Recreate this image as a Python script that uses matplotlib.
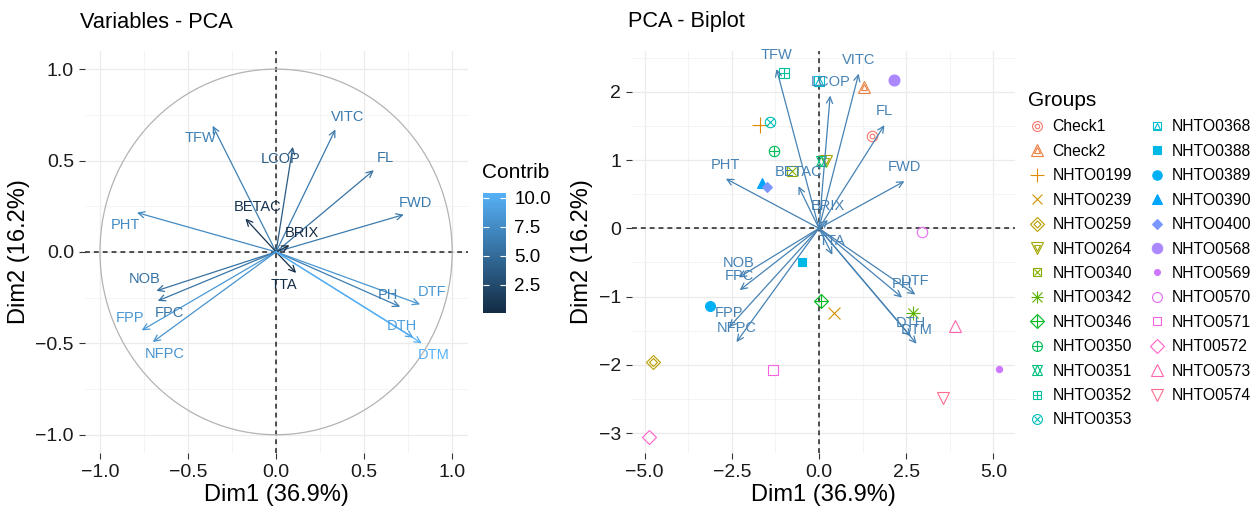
import numpy as np
import matplotlib
matplotlib.use("Agg")
import matplotlib.pyplot as plt
from matplotlib.colors import LinearSegmentedColormap, Normalize
from matplotlib.cm import ScalarMappable
from matplotlib.lines import Line2D
from matplotlib.patches import Circle
from matplotlib.legend_handler import HandlerTuple

plt.rcParams['font.family'] = ['Liberation Sans', 'DejaVu Sans']

# variable coordinates (Dim1, Dim2)
var_names = ["TFW", "LCOP", "VITC", "FL", "FWD", "BETAC", "BRIX", "PHT", "TTA",
             "NOB", "FPC", "FPP", "NFPC", "PH", "DTF", "DTH", "DTM"]
var_x = [-0.36, 0.095, 0.337, 0.555, 0.725, -0.174, 0.076, -0.79, 0.114,
         -0.68, -0.672, -0.763, -0.70, 0.705, 0.818, 0.78, 0.828]
var_y = [0.69, 0.575, 0.67, 0.447, 0.204, 0.182, 0.036, 0.215, -0.115,
         -0.213, -0.268, -0.429, -0.493, -0.30, -0.287, -0.469, -0.50]
contrib = [6.7, 3.8, 6.2, 5.6, 6.3, 0.7, 0.1, 7.4, 0.3,
           5.6, 5.8, 8.5, 8.1, 6.5, 8.3, 9.2, 10.4]
biplot_scale = 3.38

# individuals
groups = ["Check1", "Check2", "NHTO0199", "NHTO0239", "NHTO0259", "NHTO0264",
          "NHTO0340", "NHTO0342", "NHTO0346", "NHTO0350", "NHTO0351", "NHTO0352",
          "NHTO0353", "NHTO0368", "NHTO0388", "NHTO0389", "NHTO0390", "NHTO0400",
          "NHTO0568", "NHTO0569", "NHTO0570", "NHTO0571", "NHT00572", "NHTO0573",
          "NHTO0574"]
ind_x = [1.52, 1.28, -1.69, 0.42, -4.76, 0.19, -0.78, 2.70, 0.06, -1.30, 0.06, -1.01,
         -1.39, 0.0, -0.50, -3.12, -1.64, -1.50, 2.15, 5.16, 2.94, -1.32, -4.86, 3.89, 3.55]
ind_y = [1.356, 2.07, 1.51, -1.234, -1.96, 0.99, 0.84, -1.244, -1.07, 1.137, 0.99, 2.27,
         1.556, 2.16, -0.49, -1.137, 0.668, 0.61, 2.17, -2.06, -0.05, -2.07, -3.05, -1.43, -2.49]

# label nudges for the variable plot (direction signs)
lab_dir = [(-1, -1), (-1, -1), (1, 1), (1, 1), (1, 1), (1, 1), (1, 1), (-1, -1), (-1, -1),
           (-1, 1), (1, -1), (-1, 1), (1, -1), (-1, 1), (1, 1), (-1, 1), (1, -1)]


def hue_pal(n, l=65, c=100):
    out = []
    Xn, Yn, Zn = 0.95047, 1.0, 1.08883
    un = 4 * Xn / (Xn + 15 * Yn + 3 * Zn)
    vn = 9 * Yn / (Xn + 15 * Yn + 3 * Zn)
    M = np.array([[3.2404542, -1.5371385, -0.4985314],
                  [-0.9692660, 1.8760108, 0.0415560],
                  [0.0556434, -0.2040259, 1.0572252]])
    for h in np.linspace(15, 375, n + 1)[:-1]:
        u = c * np.cos(np.radians(h))
        v = c * np.sin(np.radians(h))
        Y = ((l + 16) / 116) ** 3
        up = u / (13 * l) + un
        vp = v / (13 * l) + vn
        X = Y * 9 * up / (4 * vp)
        Z = Y * (12 - 3 * up - 20 * vp) / (4 * vp)
        rgb = M @ np.array([X, Y, Z])
        rgb = np.where(rgb <= 0.0031308, 12.92 * rgb, 1.055 * np.abs(rgb) ** (1 / 2.4) - 0.055)
        rgb = np.clip(rgb, 0, 1)
        out.append('#%02x%02x%02x' % tuple(int(round(v * 255)) for v in rgb))
    return out


# pch 1..25 approximations: (marker, filled, size factor)
shapes = [
    [('o', 0, 1.0), ('o', 0, 0.45)],
    [('^', 0, 1.15), ('^', 0, 0.6)],
    [('+', 0, 1.5)],
    [('x', 0, 1.1)],
    [('D', 0, 0.95), ('D', 0, 0.5)],
    [('v', 0, 1.15), ('v', 0, 0.6)],
    [('s', 0, 0.9), ('x', 0, 0.7)],
    [('+', 0, 1.3), ('x', 0, 0.95)],
    [('D', 0, 1.0), ('+', 0, 1.3)],
    [('o', 0, 1.0), ('+', 0, 1.0)],
    [('^', 0, 1.0), ('v', 0, 1.0)],
    [('s', 0, 0.9), ('+', 0, 0.9)],
    [('o', 0, 1.0), ('x', 0, 0.7)],
    [('s', 0, 0.9), ('^', 0, 0.7)],
    [('s', 1, 0.85)],
    [('o', 1, 0.95)],
    [('^', 1, 1.05)],
    [('D', 1, 0.65)],
    [('o', 1, 1.05)],
    [('o', 1, 0.6)],
    [('o', 0, 1.0)],
    [('s', 0, 0.9)],
    [('D', 0, 0.95)],
    [('^', 0, 1.15)],
    [('v', 0, 1.15)],
]
colors = hue_pal(len(groups))

W, H = 1252, 509
fig = plt.figure(figsize=(W / 100, H / 100), dpi=100)


def frac(l, t, r, b):
    return [l / W, 1 - b / H, (r - l) / W, (b - t) / H]


def style_axes(ax):
    for s in ax.spines.values():
        s.set_visible(False)
    ax.grid(True, which='major', color='#ebebeb', lw=0.9)
    ax.grid(True, which='minor', color='#f3f3f3', lw=0.6)
    ax.set_axisbelow(True)
    ax.tick_params(which='major', length=4, color='#333333', labelsize=14,
                   labelcolor='#1a1a1a', pad=4)
    ax.tick_params(which='minor', length=0)
    ax.axhline(0, color='#222222', ls=(0, (3.2, 2.6)), lw=1.1, zorder=1)
    ax.axvline(0, color='#222222', ls=(0, (3.2, 2.6)), lw=1.1, zorder=1)


def minus_fmt(fmt):
    return lambda v, p: fmt.format(v).replace("-", "\u2212")


# ---------------- Variables - PCA ----------------
ax1 = fig.add_axes(frac(85, 51, 468, 453))
style_axes(ax1)
ax1.set_xticks([-1.0, -0.5, 0.0, 0.5, 1.0])
ax1.set_yticks([-1.0, -0.5, 0.0, 0.5, 1.0])
ax1.set_xticks(np.arange(-1.0, 1.01, 0.25), minor=True)
ax1.set_yticks(np.arange(-1.0, 1.01, 0.25), minor=True)
ax1.set_xlim(-1.085, 1.09)
ax1.set_ylim(-1.10, 1.099)
ax1.xaxis.set_major_formatter(minus_fmt("{:.1f}"))
ax1.yaxis.set_major_formatter(minus_fmt("{:.1f}"))
ax1.add_patch(Circle((0, 0), 1.0, fill=False, ec='#b3b3b3', lw=0.9, zorder=2))

cmap = LinearSegmentedColormap.from_list('gg', ['#132B43', '#56B1F7'])
norm = Normalize(vmin=0.06, vmax=10.43)
for name, x, y, c, (sx, sy) in zip(var_names, var_x, var_y, contrib, lab_dir):
    col = cmap(norm(c))
    ax1.annotate('', xy=(x, y), xytext=(0, 0),
                 arrowprops=dict(arrowstyle='->,head_length=0.45,head_width=0.22',
                                 color=col, lw=0.9, shrinkA=0, shrinkB=0), zorder=3)
    ax1.annotate(name, xy=(x, y), xytext=(12 * sx, 12 * sy), textcoords='offset pixels',
                 ha='center', va='center', fontsize=10.5, color=col, zorder=4)
ax1.set_xlabel('Dim1 (36.9%)', fontsize=17, labelpad=2)
ax1.set_ylabel('Dim2 (16.2%)', fontsize=17, labelpad=4)
fig.text(80 / W, 1 - 22 / H, 'Variables - PCA', fontsize=15.7, ha='left', va='center')

# colorbar
cax = fig.add_axes(frac(483, 193, 506, 313))
cb = fig.colorbar(ScalarMappable(norm=norm, cmap=cmap), cax=cax)
cb.outline.set_visible(False)
cb.set_ticks([2.5, 5.0, 7.5, 10.0])
cb.ax.set_yticklabels(['2.5', '5.0', '7.5', '10.0'])
cax.tick_params(color='white', direction='in', length=4, width=0.8, left=True, right=True,
                labelleft=False, labelright=True, labelsize=13.5, pad=6)
fig.text(482 / W, 1 - 172 / H, 'Contrib', fontsize=15, ha='left', va='center')

# ---------------- PCA - Biplot ----------------
ax2 = fig.add_axes(frac(632, 51, 1015, 453))
style_axes(ax2)
ax2.set_xticks([-5.0, -2.5, 0.0, 2.5, 5.0])
ax2.set_yticks([-3, -2, -1, 0, 1, 2])
ax2.set_xticks(np.arange(-6.25, 6.3, 1.25), minor=True)
ax2.set_yticks(np.arange(-3.5, 3.0, 0.5), minor=True)
ax2.set_xlim(-5.36, 5.62)
ax2.set_ylim(-3.29, 2.596)
ax2.xaxis.set_major_formatter(minus_fmt("{:.1f}"))
ax2.yaxis.set_major_formatter(minus_fmt("{:.0f}"))

base_ms = 7.5
handles = []
for i, (g, x, y) in enumerate(zip(groups, ind_x, ind_y)):
    col = colors[i]
    parts = []
    for m, filled, f in shapes[i]:
        kw = dict(marker=m, ms=base_ms * f, ls='none', mec=col, mew=0.8,
                  mfc=col if filled else 'none')
        ax2.plot([x], [y], zorder=3, **kw)
        parts.append(Line2D([], [], **dict(kw, ms=base_ms * f * 0.95)))
    handles.append(tuple(parts))

steel = '#4682B4'
for name, x, y in zip(var_names, var_x, var_y):
    bx, by = x * biplot_scale, y * biplot_scale
    ax2.annotate('', xy=(bx, by), xytext=(0, 0),
                 arrowprops=dict(arrowstyle='->,head_length=0.45,head_width=0.22',
                                 color=steel, lw=0.9, shrinkA=0, shrinkB=0), zorder=4)
    ax2.annotate(name, xy=(bx, by), xytext=(0, 14), textcoords='offset pixels',
                 ha='center', va='center', fontsize=10.5, color=steel, zorder=5)
ax2.set_xlabel('Dim1 (36.9%)', fontsize=17, labelpad=2)
ax2.set_ylabel('Dim2 (16.2%)', fontsize=17, labelpad=4)
fig.text(628 / W, 1 - 22 / H, 'PCA - Biplot', fontsize=15.7, ha='left', va='center')

leg = fig.legend(handles, groups, title='Groups', ncol=2,
                 handler_map={tuple: HandlerTuple(ndivide=1)},
                 loc='upper left', bbox_to_anchor=(1028 / W, 1 - 91 / H),
                 frameon=False, fontsize=11.3, title_fontsize=15,
                 labelspacing=0.6, handlelength=1.2, handletextpad=0.35,
                 columnspacing=1.0, borderaxespad=0, borderpad=0)
leg._legend_box.align = 'left'

fig.savefig('out.png', dpi=100)
